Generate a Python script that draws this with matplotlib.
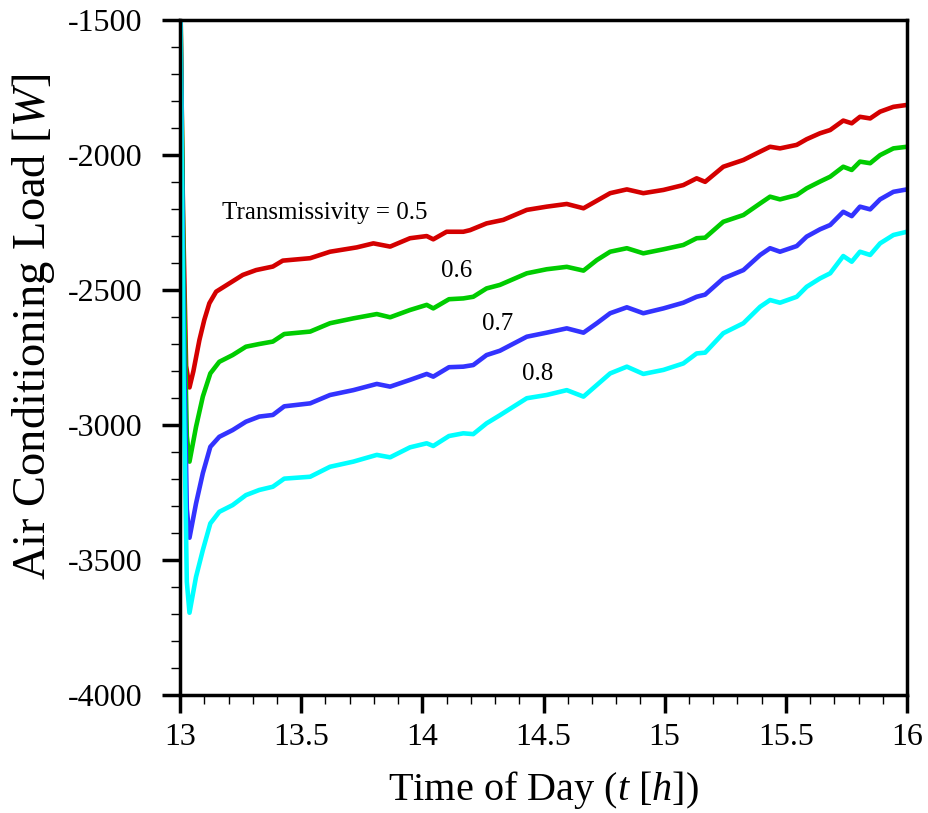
import matplotlib
matplotlib.use("Agg")
import matplotlib.pyplot as plt
from matplotlib.ticker import MultipleLocator

plt.rcParams['font.family'] = ['Liberation Serif', 'DejaVu Serif']
plt.rcParams['mathtext.fontset'] = 'custom'
plt.rcParams['mathtext.rm'] = 'Liberation Serif'
plt.rcParams['mathtext.it'] = 'Liberation Serif:italic'
plt.rcParams['axes.unicode_minus'] = False

# Time of day [h] for each sampled point
t_red = [13.000, 13.012, 13.025, 13.039, 13.055, 13.080, 13.100, 13.121, 13.149, 13.204,
         13.259, 13.314, 13.383, 13.424, 13.537, 13.619, 13.729, 13.798, 13.867, 13.949,
         14.018, 14.045, 14.100, 14.169, 14.197, 14.265, 14.334, 14.431, 14.513, 14.596,
         14.665, 14.775, 14.844, 14.912, 14.995, 15.077, 15.132, 15.167, 15.242, 15.325,
         15.394, 15.435, 15.476, 15.545, 15.586, 15.641, 15.683, 15.737, 15.772, 15.806,
         15.848, 15.889, 15.944, 16.000]
load_05 = [-1300, -2200, -2780, -2860, -2800, -2684, -2610, -2548, -2505, -2474,
           -2443, -2425, -2412, -2390, -2381, -2357, -2341, -2326, -2338, -2307,
           -2299, -2311, -2283, -2283, -2277, -2252, -2239, -2202, -2190, -2180,
           -2196, -2140, -2126, -2140, -2128, -2110, -2085, -2098, -2042, -2017,
           -1986, -1968, -1974, -1961, -1940, -1918, -1906, -1871, -1881, -1857,
           -1863, -1838, -1820, -1813]

t_low = [13.000, 13.015, 13.028, 13.039, 13.066, 13.094, 13.125, 13.162, 13.217, 13.272,
         13.327, 13.383, 13.430, 13.537, 13.619, 13.715, 13.812, 13.867, 13.949, 14.018,
         14.045, 14.110, 14.169, 14.210, 14.265, 14.320, 14.431, 14.513, 14.596, 14.665,
         14.720, 14.775, 14.844, 14.912, 14.995, 15.077, 15.132, 15.167, 15.242, 15.325,
         15.394, 15.435, 15.476, 15.545, 15.586, 15.641, 15.683, 15.737, 15.772, 15.806,
         15.848, 15.889, 15.944, 16.000]
load_06 = [-1300, -2450, -3040, -3135, -3006, -2894, -2808, -2765, -2740, -2709,
           -2699, -2690, -2662, -2653, -2622, -2604, -2588, -2600, -2573, -2554,
           -2567, -2533, -2530, -2524, -2493, -2480, -2437, -2422, -2413, -2427,
           -2388, -2357, -2344, -2363, -2348, -2332, -2307, -2305, -2246, -2221,
           -2178, -2153, -2163, -2147, -2122, -2097, -2079, -2042, -2054, -2023,
           -2029, -1999, -1974, -1968]
load_07 = [-1300, -2650, -3310, -3417, -3290, -3178, -3080, -3043, -3018, -2987,
           -2968, -2962, -2930, -2919, -2888, -2870, -2847, -2857, -2832, -2810,
           -2820, -2785, -2783, -2777, -2740, -2724, -2672, -2657, -2641, -2657,
           -2622, -2585, -2563, -2585, -2567, -2546, -2524, -2516, -2456, -2425,
           -2369, -2344, -2357, -2336, -2301, -2274, -2258, -2209, -2225, -2190,
           -2200, -2163, -2135, -2126]
load_08 = [-1300, -2850, -3580, -3695, -3562, -3463, -3364, -3321, -3296, -3259,
           -3240, -3228, -3198, -3191, -3154, -3135, -3110, -3119, -3082, -3067,
           -3077, -3040, -3030, -3033, -2993, -2963, -2900, -2888, -2870, -2894,
           -2851, -2808, -2783, -2810, -2795, -2771, -2734, -2731, -2659, -2622,
           -2561, -2536, -2546, -2524, -2487, -2456, -2437, -2373, -2394, -2357,
           -2369, -2326, -2295, -2283]

series = [
    (t_red, load_05, '#d40000'),
    (t_low, load_06, '#00cc00'),
    (t_low, load_07, '#3333ff'),
    (t_low, load_08, '#00ffff'),
]

curve_labels = ['Transmissivity = 0.5', '0.6', '0.7', '0.8']
label_pos = [(13.598, -2213), (14.143, -2428), (14.312, -2625), (14.477, -2810)]

x_ticks = [13, 13.5, 14, 14.5, 15, 15.5, 16]
x_tick_labels = ['13', '13.5', '14', '14.5', '15', '15.5', '16']
y_ticks = [-4000, -3500, -3000, -2500, -2000, -1500]

fig = plt.figure(figsize=(9.29, 8.13), dpi=100)
ax = fig.add_axes([0.1938, 0.1451, 0.7825, 0.8297])

for t, y, c in series:
    ax.plot(t, y, color=c, lw=3.3, solid_joinstyle='round', solid_capstyle='round')

for txt, (tx, ty) in zip(curve_labels, label_pos):
    ax.text(tx, ty, txt, fontsize=18, ha='center', va='center')

ax.set_xlim(13, 16)
ax.set_ylim(-4000, -1500)
ax.set_xticks(x_ticks)
ax.set_xticklabels(x_tick_labels)
ax.set_yticks(y_ticks)
ax.xaxis.set_minor_locator(MultipleLocator(0.1))
ax.yaxis.set_minor_locator(MultipleLocator(100))

ax.tick_params(which='major', direction='out', length=13, width=2.5, labelsize=23,
               top=False, right=False)
ax.tick_params(which='minor', direction='out', length=6.5, width=1.0,
               top=False, right=False)
ax.tick_params(axis='y', which='major', pad=14)
ax.tick_params(axis='x', which='major', pad=7)

for s in ax.spines.values():
    s.set_linewidth(2.5)

ax.set_xlabel('Time of Day ($t$ [$h$])', fontsize=29)
ax.xaxis.set_label_coords(0.5, -0.109)
ax.xaxis.label.set_va('top')
ax.set_ylabel('Air Conditioning Load [$W$]', fontsize=33.5)
ax.yaxis.set_label_coords(-0.201, 0.546)
ax.yaxis.label.set_va('center')

fig.savefig('out.png', dpi=100)
